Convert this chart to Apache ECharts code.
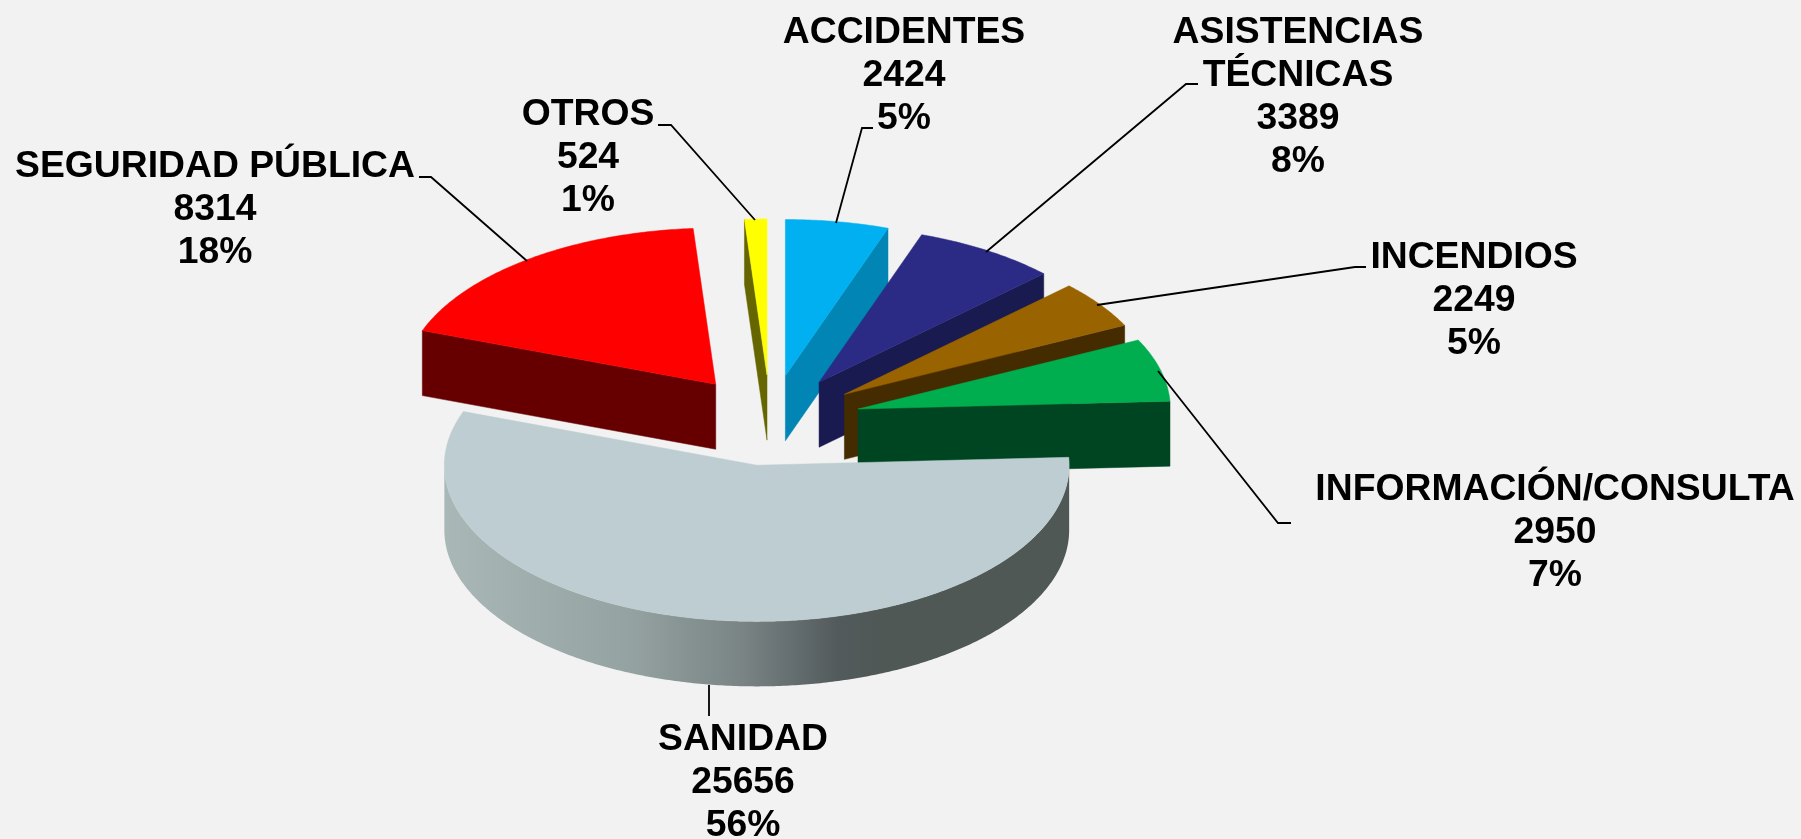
<!DOCTYPE html>
<html><head><meta charset="utf-8">
<style>html,body{margin:0;padding:0;background:#f2f2f2}#c{width:1801px;height:839px}</style>
<script src="https://cdn.jsdelivr.net/npm/echarts@6/dist/echarts.min.js"></script>
</head><body><div id="c"></div>
<script>
// --- chart values ---
const categories = ['ACCIDENTES','ASISTENCIAS\nTÉCNICAS','INCENDIOS','INFORMACIÓN/CONSULTA','SANIDAD','SEGURIDAD PÚBLICA','OTROS'];
const values = [2424,3389,2249,2950,25656,8314,524];
const percentLabels = ['5%','8%','5%','7%','56%','18%','1%'];

// --- styling ---
const topColors = ['#00B0F0','#2B2A85','#996300','#00AD4F','#BDCDD1','#FF0000','#FFFF00'];
const sideColors = ['#0085B5','#191A50','#452B00','#004521',null,'#660000','#666600'];
const sanidadSide = {type:'linear',x:0,y:0,x2:1,y2:0,colorStops:[
  {offset:0,color:'#A9B8B7'},{offset:0.3,color:'#94A2A1'},{offset:0.48,color:'#798384'},
  {offset:0.63,color:'#525A5C'},{offset:0.7,color:'#4F5855'},{offset:1,color:'#4F5855'}]};

// --- pie geometry (tilted pie: ellipse projection) ---
const CX=770.3, CY=420.4, RX=312.4, RY=156.2, DEPTH=65, EXPLODE=0.29;
// --- label layout: [centre x, top y] ---
const labelPos = [[904,11],[1298,11],[1474,236],[1555,468],[743,718],[215,145],[588,93.5]];
const LINE_H = 43;
const leaderLayout = [
  [[873,128],[862,128],[836,223]],
  [[1198,84],[1186,84],[986,252]],
  [[1366,267],[1355,267],[1097,305]],
  [[1291,523],[1278,523],[1158,371]],
  [[709,716],[709,685]],
  [[419,177],[431,177],[527,261]],
  [[658,125],[671,125],[755,220]]
];

const total = values.reduce((a,b)=>a+b,0);
let acc = 0;
const spans = values.map(v=>{const s=acc/total*2*Math.PI; acc+=v; return [s,acc/total*2*Math.PI];});

function pt(cx,cy,a){return [cx+RX*Math.sin(a), cy-RY*Math.cos(a)];}
function arc(cx,cy,a0,a1){
  const n=Math.max(2,Math.ceil((a1-a0)/0.01)), out=[];
  for(let i=0;i<=n;i++) out.push(pt(cx,cy,a0+(a1-a0)*i/n));
  return out;
}
function down(p){return [p[0],p[1]+DEPTH];}

function renderSlice(params,api){
  const i=api.value(0);
  const [a0,a1]=spans[i];
  const mid=(a0+a1)/2;
  const tip=[CX+EXPLODE*RX*Math.sin(mid), CY-EXPLODE*RY*Math.cos(mid)];
  const children=[];
  const side=sideColors[i];
  const poly=(points,fill)=>({type:'polygon',shape:{points},style:{fill,stroke:fill,lineWidth:0.5}});
  // visible radial faces
  if(a0>Math.PI){
    const e=pt(tip[0],tip[1],a0);
    children.push(poly([tip,e,down(e),down(tip)],side));
  }
  if(a1<Math.PI){
    const e=pt(tip[0],tip[1],a1);
    children.push(poly([tip,e,down(e),down(tip)],side));
  }
  // visible outer wall: the part of the arc facing the viewer
  const w0=Math.max(a0,Math.PI/2), w1=Math.min(a1,Math.PI*1.5);
  if(w1>w0){
    const rim=arc(tip[0],tip[1],w0,w1);
    const fill=side||sanidadSide;
    children.push({type:'polygon',shape:{points:rim.concat(rim.slice().reverse().map(down))},style:{fill}});
  }
  // top face
  children.push(poly([tip].concat(arc(tip[0],tip[1],a0,a1)),topColors[i]));
  return {type:'group',children};
}
function renderLeader(params,api){
  const i=api.value(0);
  return {type:'polyline',shape:{points:leaderLayout[i]},style:{stroke:'#000',lineWidth:1.8,fill:null}};
}
function renderLabel(params,api){
  const i=api.value(0);
  return {type:'text',style:{
    text:categories[i]+'\n'+values[i]+'\n'+percentLabels[i],
    x:labelPos[i][0],y:labelPos[i][1],align:'center',verticalAlign:'top',
    fontFamily:'"Liberation Sans",Arial,sans-serif',fontWeight:'bold',fontSize:37.3,lineHeight:LINE_H,fill:'#000'}};
}
const idx=values.map((v,i)=>[i,v]);
const chart=echarts.init(document.getElementById('c'),null,{renderer:'canvas'});
chart.setOption({
  animation:false,
  backgroundColor:'#F2F2F2',
  series:[
    {type:'custom',name:'Sectores',coordinateSystem:'none',renderItem:renderSlice,data:idx,silent:true,z:2},
    {type:'custom',name:'Guías',coordinateSystem:'none',renderItem:renderLeader,data:idx,silent:true,z:3},
    {type:'custom',name:'Etiquetas',coordinateSystem:'none',renderItem:renderLabel,data:idx,silent:true,z:4}
  ]
});
</script></body></html>
